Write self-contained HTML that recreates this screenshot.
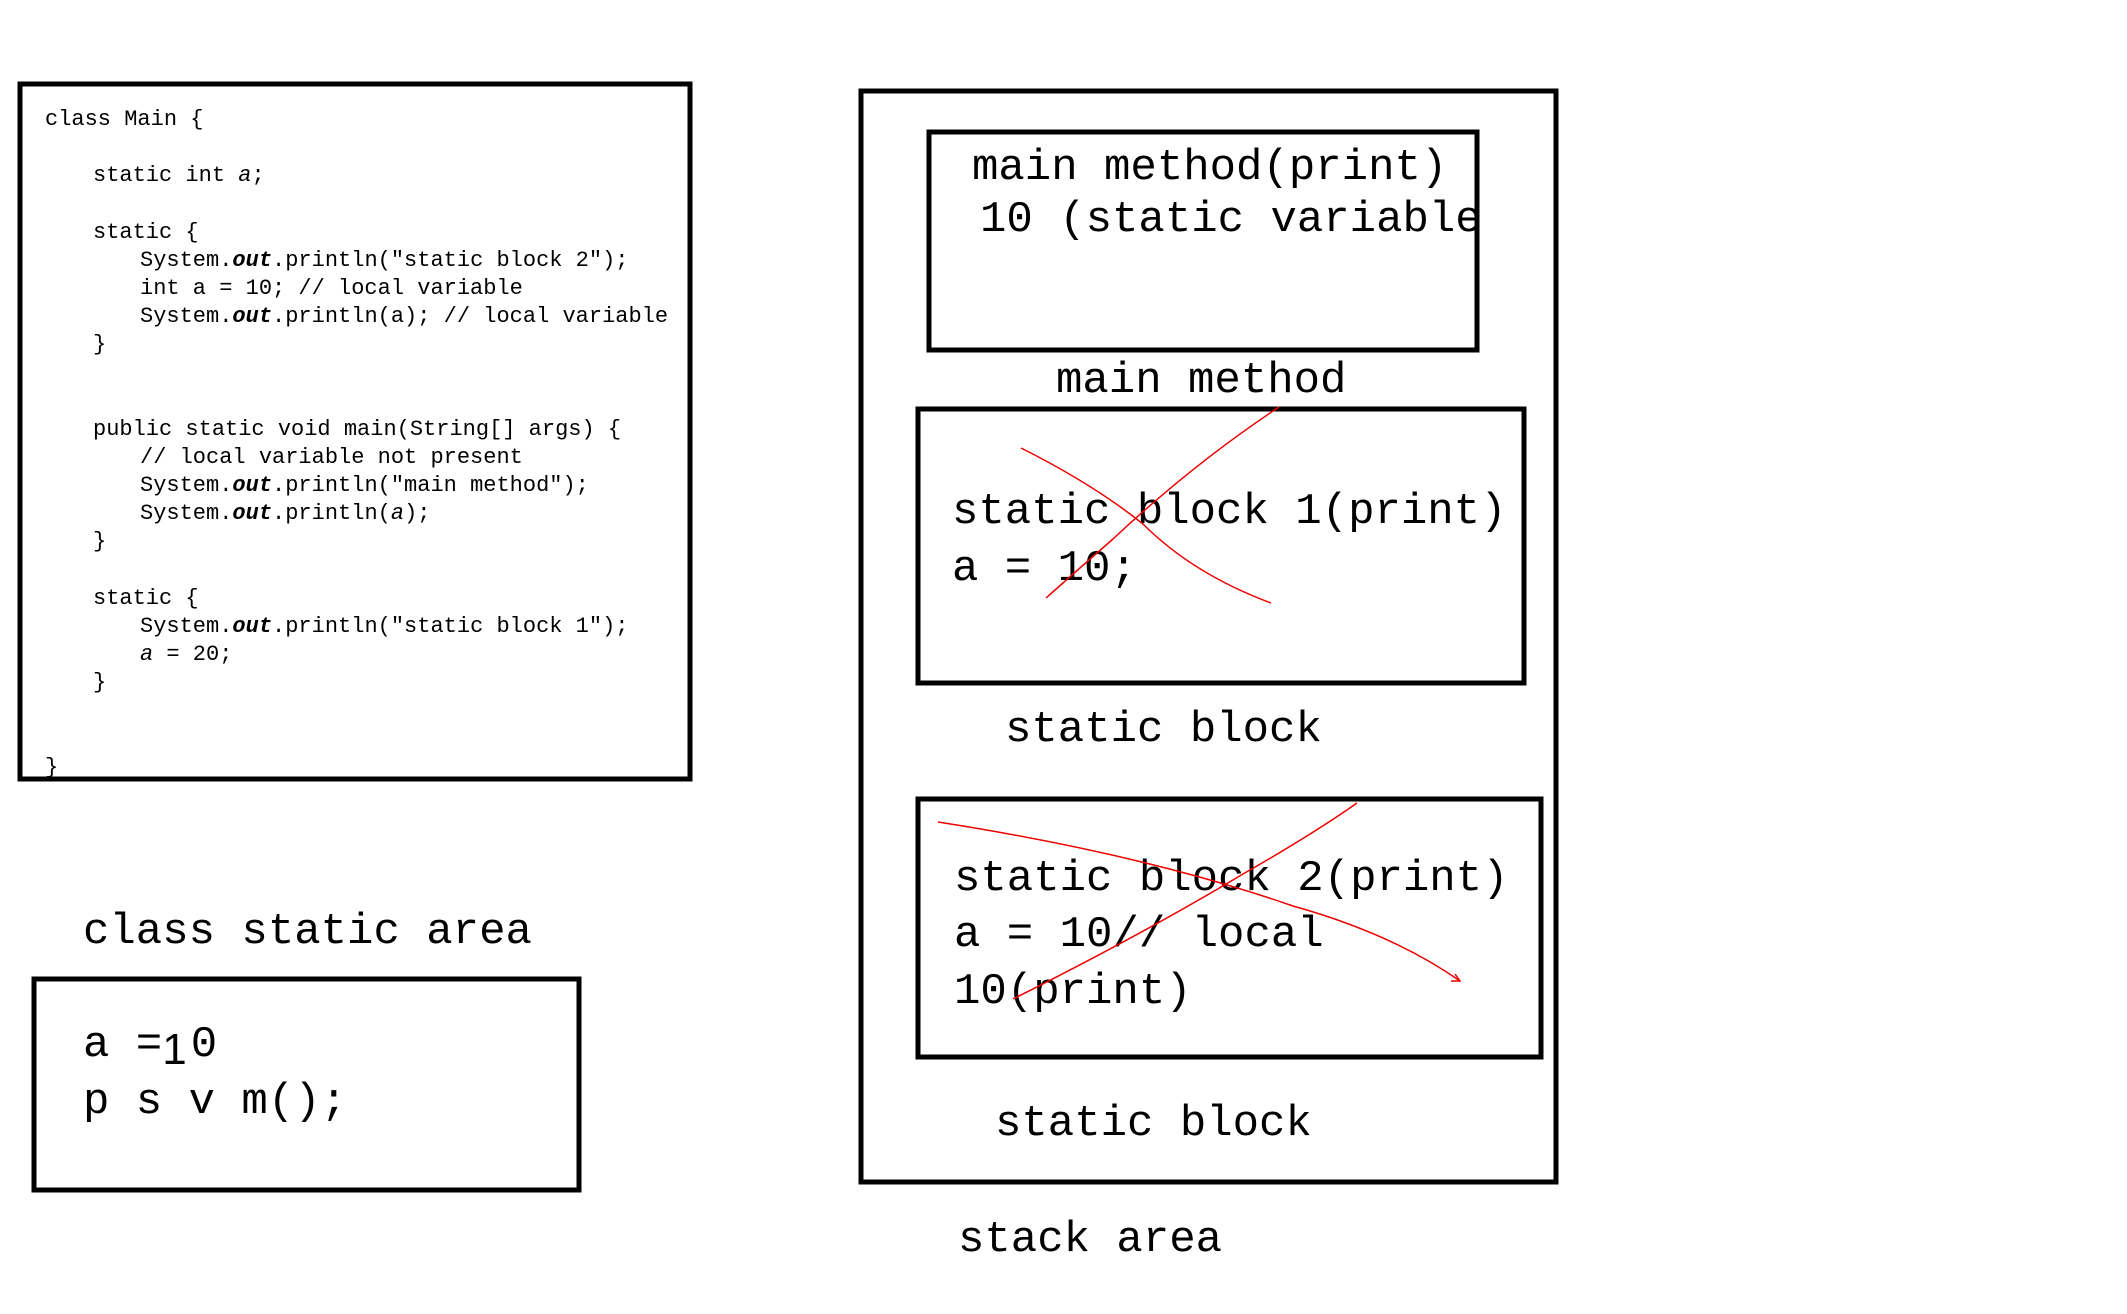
<!DOCTYPE html>
<html><head><meta charset="utf-8"><style>
html,body{margin:0;padding:0;background:#fff;}
svg{display:block;}
.c{font-family:"Liberation Mono",monospace;font-size:22px;fill:#000;}
.b{font-family:"Liberation Mono",monospace;font-size:44px;fill:#000;}
</style></head><body>
<svg width="2127" height="1314" viewBox="0 0 2127 1314" xmlns="http://www.w3.org/2000/svg">
<rect x="0" y="0" width="2127" height="1314" fill="#fff"/>
<rect x="20" y="84" width="670" height="695" fill="none" stroke="#000" stroke-width="5"/>
<g class="c" transform="translate(0,-2)">
<text x="45" y="127">class Main {</text>
<text x="93" y="183">static int <tspan font-style="italic">a</tspan>;</text>
<text x="93" y="240">static {</text>
<text x="140" y="268">System.<tspan font-style="italic" font-weight="bold">out</tspan>.println("static block 2");</text>
<text x="140" y="296">int a = 10; // local variable</text>
<text x="140" y="324">System.<tspan font-style="italic" font-weight="bold">out</tspan>.println(a); // local variable</text>
<text x="93" y="352">}</text>
<text x="93" y="437">public static void main(String[] args) {</text>
<text x="140" y="465">// local variable not present</text>
<text x="140" y="493">System.<tspan font-style="italic" font-weight="bold">out</tspan>.println("main method");</text>
<text x="140" y="521">System.<tspan font-style="italic" font-weight="bold">out</tspan>.println(<tspan font-style="italic">a</tspan>);</text>
<text x="93" y="549">}</text>
<text x="93" y="606">static {</text>
<text x="140" y="634">System.<tspan font-style="italic" font-weight="bold">out</tspan>.println("static block 1");</text>
<text x="140" y="662"><tspan font-style="italic">a</tspan> = 20;</text>
<text x="93" y="690">}</text>
<text x="45" y="775">}</text>
</g>
<g transform="translate(-2,-6)">
<text class="b" x="85" y="949">class static area</text>
<rect x="36" y="985" width="545" height="211" fill="none" stroke="#000" stroke-width="5"/>
<text class="b" x="85" y="1062">a =<tspan font-family="Liberation Sans, sans-serif" dy="8">1</tspan><tspan dy="-8" dx="4">0</tspan></text>
<text class="b" x="85" y="1119">p s v m();</text>
</g>

<g transform="translate(-7,-6)">
<rect x="868" y="97" width="695" height="1091" fill="none" stroke="#000" stroke-width="5"/>
<rect x="936" y="138" width="548" height="218" fill="none" stroke="#000" stroke-width="5"/>
<text class="b" x="979" y="185">main method(print)</text>
<text class="b" x="987" y="237">10 (static variable</text>
<text class="b" x="1063" y="398">main method</text>
<rect x="925" y="415" width="606" height="274" fill="none" stroke="#000" stroke-width="5"/>
<text class="b" x="959" y="529">static block 1(print)</text>
<text class="b" x="959" y="586">a = 10;</text>
<text class="b" x="1012" y="747">static block</text>
<rect x="925" y="805" width="623" height="258" fill="none" stroke="#000" stroke-width="5"/>
<text class="b" x="961" y="896">static block 2(print)</text>
<text class="b" x="961" y="952">a = 10// local</text>
<text class="b" x="961" y="1009">10(print)</text>
<text class="b" x="1002" y="1141">static block</text>
<text class="b" x="965" y="1257">stack area</text>
<g fill="none" stroke="#e00" stroke-width="1.5">
<path d="M1028 454 Q1100 490 1150 530 Q1200 580 1278 609"/>
<path d="M1053 604 Q1080 580 1120 545 Q1200 470 1286 413"/>
<path d="M945 828 Q1150 860 1300 912 Q1400 940 1467 987"/>
<path d="M1462 980 L1467 987 L1458 987"/>
<path d="M1020 1005 Q1150 940 1250 880 Q1320 840 1364 809"/>
</g>
</g>
</svg>
</body></html>
